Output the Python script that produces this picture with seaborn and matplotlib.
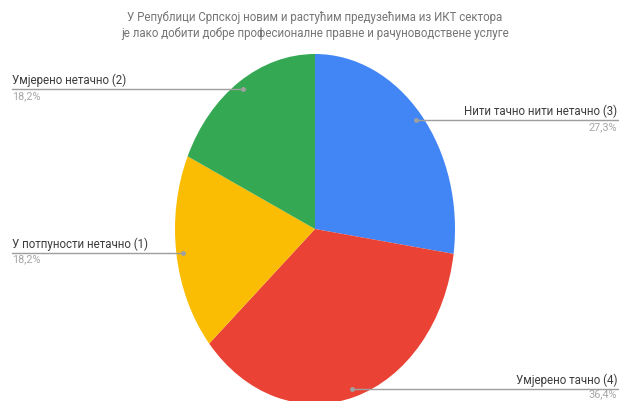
import numpy as np
import seaborn as sns
import matplotlib.pyplot as plt

title = ('У Републици Српској новим и растућим предузећима из ИКТ сектора\n'
         'је лако добити добре професионалне правне и рачуноводствене услуге')
labels = ['Нити тачно нити нетачно (3)', 'Умјерено тачно (4)',
          'У потпуности нетачно (1)', 'Умјерено нетачно (2)']
shares = [27.3, 36.4, 18.2, 18.2]
colors = ['#4285F4', '#EA4335', '#FBBC04', '#34A853']

sns.set_theme(style='white')
plt.rcParams['font.family'] = ['Roboto', 'DejaVu Sans']

W, H = 619, 401
fig = plt.figure(figsize=(W / 100, H / 100), dpi=100)
# pie looks stretched vertically in the reference, so no equal aspect
ax = fig.add_axes([175 / W, (H - 404) / H, 280 / W, 350 / H])
wedges, _ = ax.pie(shares, colors=colors, startangle=90, counterclock=False,
                   wedgeprops=dict(linewidth=0))
ax.set_aspect('auto')
ax.set_xlim(-1, 1)
ax.set_ylim(-1, 1)
ax.axis('off')

fig.text(315 / W, 1 - 11 / H, title, ha='center', va='top', fontsize=8.3,
         color='#757575', linespacing=1.25)

left_edge = (12 - 315) / 140
right_edge = (617 - 315) / 140
for w, lab, val in zip(wedges, labels, shares):
    mid = np.deg2rad((w.theta1 + w.theta2) / 2)
    dx, dy = 0.95 * np.cos(mid), 0.95 * np.sin(mid)
    if dx < 0:
        edge, ha = left_edge, 'left'
    else:
        edge, ha = right_edge, 'right'
    end = edge if ha == 'left' else edge + 0.02
    ax.plot([dx, end], [dy, dy], color='#9e9e9e', lw=1, clip_on=False)
    ax.plot(dx, dy, 'o', color='#a0a0a0', ms=2.5, clip_on=False)
    ax.annotate(lab, (edge, dy), xytext=(0, 2), textcoords='offset pixels',
                ha=ha, va='bottom', fontsize=8.3, color='#3c3c3c',
                annotation_clip=False)
    # the lowest percentage sits right on the bottom edge, keep it inside
    off = -1 if dy < -0.8 else -2
    ax.annotate(f'{val:.1f}%'.replace('.', ','), (edge, dy), xytext=(0, off),
                textcoords='offset pixels', ha=ha, va='top', fontsize=7.8,
                color='#a6a6a6', annotation_clip=False)

fig.savefig('out.png', dpi=100)
